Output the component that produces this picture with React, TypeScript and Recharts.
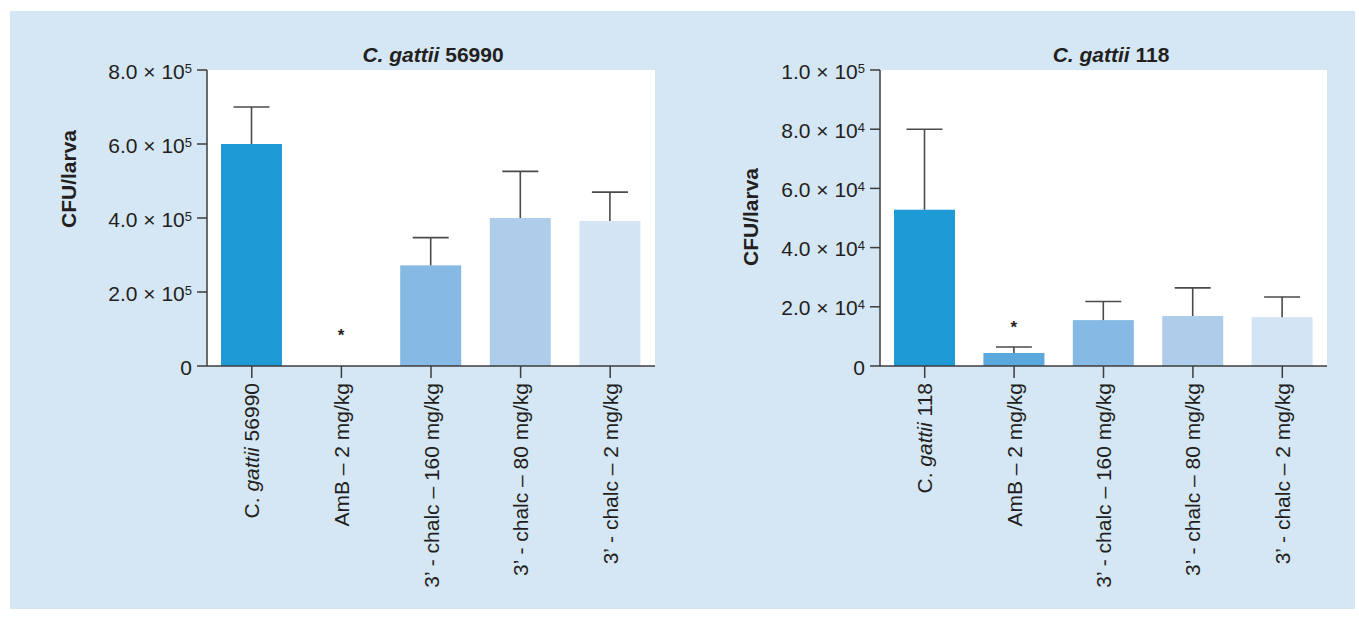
import React from 'react';
import { BarChart, Bar, XAxis, YAxis, CartesianGrid, Cell, LabelList } from 'recharts';

const FONT = '"Liberation Sans", Arial, Helvetica, sans-serif';
const INK = '#231f20';
const AXIS = '#3d3d3d';
const PANEL = '#d5e6f4';

// treatment groups, mean CFU per larva and upper SD, strain 56990
const groups56990 = ['C. gattii 56990', 'AmB – 2 mg/kg', '3’ - chalc – 160 mg/kg', '3’ - chalc – 80 mg/kg', '3’ - chalc – 2 mg/kg'];
const cfu56990 = [6.0e5, 0, 2.72e5, 4.0e5, 3.92e5];
const sd56990 = [1.0e5, 0, 0.75e5, 1.26e5, 0.78e5];
const marks56990 = ['', '*', '', '', ''];
const ticks56990 = [0, 2e5, 4e5, 6e5, 8e5];

// same groups, strain 118
const groups118 = ['C. gattii 118', 'AmB – 2 mg/kg', '3’ - chalc – 160 mg/kg', '3’ - chalc – 80 mg/kg', '3’ - chalc – 2 mg/kg'];
const cfu118 = [5.28e4, 0.44e4, 1.55e4, 1.69e4, 1.65e4];
const sd118 = [2.72e4, 0.2e4, 0.63e4, 0.95e4, 0.68e4];
const marks118 = ['', '*', '', '', ''];
const ticks118 = [0, 2e4, 4e4, 6e4, 8e4, 1e5];

const barColors = ['#1e9ad6', '#5ba8dc', '#86b9e3', '#aecdeb', '#d3e4f4'];

const toRows = (groups: string[], cfu: number[], sd: number[], marks: string[]) =>
  groups.map((group, i) => ({ group, cfu: cfu[i], sd: sd[i], mark: marks[i] }));

const sci = (v: number) => {
  if (v === 0) return null;
  const exp = Math.floor(Math.log10(v) + 1e-9);
  return { mant: (v / 10 ** exp).toFixed(1), exp };
};

const YTick = (props: any) => {
  const { x, y, payload } = props;
  const s = sci(payload.value);
  return (
    <text x={x} y={y + 8.5} textAnchor="end" fontFamily={FONT} fontSize={21} fill={INK}>
      {s ? (
        <>
          {s.mant} × 10<tspan dy={-6} fontSize={13}>{s.exp}</tspan>
        </>
      ) : (
        '0'
      )}
    </text>
  );
};

const XTick = (props: any) => {
  const { x, y, payload } = props;
  const label: string = payload.value;
  const m = label.match(/^C\. gattii (.+)$/);
  return (
    <text
      transform={`translate(${x},${y}) rotate(-90)`}
      textAnchor="end"
      dy="0.36em"
      fontFamily={FONT}
      fontSize={21}
      fill={INK}
    >
      {m ? (
        <>
          <tspan>C. </tspan>
          <tspan fontStyle="italic">gattii</tspan>
          <tspan>{' ' + m[1]}</tspan>
        </>
      ) : (
        label
      )}
    </text>
  );
};

// bar plus an upper-only SD whisker, scaled from the bar's own height
const BarWithSd = (props: any) => {
  const { x, y, width, height, fill, payload } = props;
  const cx = x + width / 2;
  const whisker = payload.cfu > 0 ? (height * payload.sd) / payload.cfu : 0;
  return (
    <g>
      <rect x={x} y={y} width={width} height={height} fill={fill} />
      {whisker > 0 && (
        <>
          <line x1={cx} x2={cx} y1={y} y2={y - whisker} stroke="#4a4a4a" strokeWidth={1.6} />
          <line x1={cx - 18} x2={cx + 18} y1={y - whisker} y2={y - whisker} stroke="#4a4a4a" strokeWidth={1.6} />
        </>
      )}
    </g>
  );
};

const Star = (props: any) => {
  const { x, y, width, value, gap } = props;
  if (!value) return null;
  return (
    <text x={x + width / 2} y={y - gap + 9.5} textAnchor="middle" fontFamily={FONT} fontSize={17} fontWeight="bold" fill={INK}>
      {value}
    </text>
  );
};

type PanelProps = {
  rows: any[];
  ticks: number[];
  width: number;
  yAxisWidth: number;
  plotWidth: number;
  starGap: number;
};

const PanelChart = ({ rows, ticks, width, yAxisWidth, plotWidth, starGap }: PanelProps) => (
  <BarChart
    width={width}
    height={617}
    data={rows}
    margin={{ top: 70, right: width - yAxisWidth - plotWidth, bottom: 0, left: 0 }}
    barSize={61}
  >
    <CartesianGrid fill="#ffffff" horizontal={false} vertical={false} stroke="none" />
    <XAxis
      dataKey="group"
      interval={0}
      height={251}
      tickSize={12}
      tickMargin={5}
      tick={<XTick />}
      axisLine={{ stroke: AXIS, strokeWidth: 1.5 }}
      tickLine={{ stroke: AXIS, strokeWidth: 1.5 }}
    />
    <YAxis
      type="number"
      domain={[0, ticks[ticks.length - 1]]}
      ticks={ticks}
      interval={0}
      width={yAxisWidth}
      tickSize={10}
      tickMargin={5}
      tick={<YTick />}
      axisLine={{ stroke: AXIS, strokeWidth: 1.5 }}
      tickLine={{ stroke: AXIS, strokeWidth: 1.5 }}
    />
    <Bar dataKey="cfu" isAnimationActive={false} shape={<BarWithSd />}>
      {rows.map((_, i) => (
        <Cell key={i} fill={barColors[i]} />
      ))}
      <LabelList dataKey="mark" content={<Star gap={starGap} />} />
    </Bar>
  </BarChart>
);

const rows56990 = toRows(groups56990, cfu56990, sd56990, marks56990);
const rows118 = toRows(groups118, cfu118, sd118, marks118);

export default function App() {
  return (
    <div style={{ position: 'absolute', left: 0, top: 0, width: 1359, height: 617, background: '#fff', fontFamily: FONT }}>
      <div style={{ position: 'absolute', left: 10, top: 11, width: 1345, height: 598, background: PANEL }} />
      <div style={{ position: 'absolute', left: 0, top: 0 }}>
        <PanelChart rows={rows56990} ticks={ticks56990} width={680} yAxisWidth={207} plotWidth={448} starGap={35} />
      </div>
      <div style={{ position: 'absolute', left: 680, top: 0 }}>
        <PanelChart rows={rows118} ticks={ticks118} width={679} yAxisWidth={200} plotWidth={447} starGap={29} />
      </div>
      <svg style={{ position: 'absolute', left: 0, top: 0, pointerEvents: 'none' }} width={1359} height={617}>
        <g fontFamily={FONT} fontWeight="bold" fontSize={21} fill={INK}>
          <text x={433} y={62} textAnchor="middle">
            <tspan fontStyle="italic">C. gattii</tspan>
            <tspan>{' 56990'}</tspan>
          </text>
          <text x={1111} y={62} textAnchor="middle">
            <tspan fontStyle="italic">C. gattii</tspan>
            <tspan>{' 118'}</tspan>
          </text>
          <text transform="translate(76,179) rotate(-90)" textAnchor="middle">CFU/larva</text>
          <text transform="translate(758,217) rotate(-90)" textAnchor="middle">CFU/larva</text>
        </g>
      </svg>
    </div>
  );
}
